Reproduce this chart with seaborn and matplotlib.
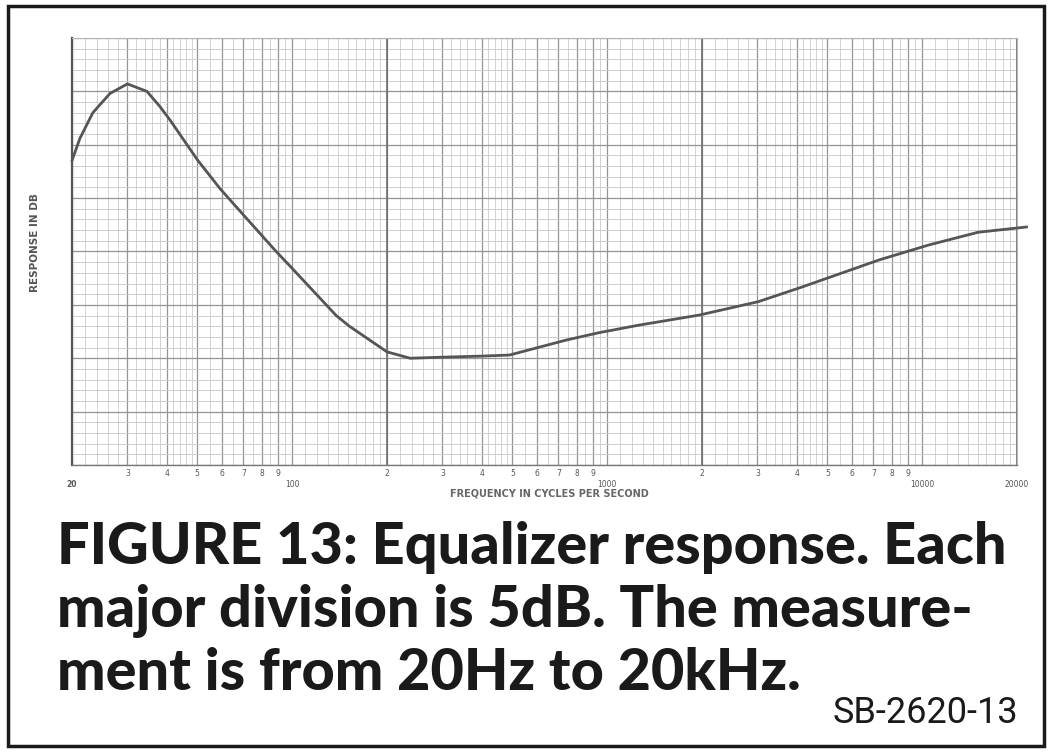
import numpy as np
import matplotlib
matplotlib.use("Agg")
import matplotlib.pyplot as plt
import matplotlib.ticker as mticker
from matplotlib.patches import Rectangle
import seaborn as sns

sns.set_style("white")

# curve (Hz, dB above bottom of the sheet)
freq_hz = [20, 21.2, 23.3, 26.4, 30, 34.6, 38, 41, 50, 59, 65, 89, 98, 138, 152,
           200, 237, 300, 400, 490, 741, 944, 1261, 1965, 3019, 4089, 7285,
           10467, 15050, 21500]
response_db = [28.5, 30.6, 33.0, 34.8, 35.7, 35.0, 33.6, 32.3, 28.6, 25.9, 24.5,
               20.0, 18.7, 14.0, 13.0, 10.6, 10.0, 10.1, 10.2, 10.3, 11.7, 12.4,
               13.1, 14.05, 15.3, 16.6, 19.2, 20.6, 21.8, 22.3]

# x tick labels as printed on the paper
tick_hz = [20, 30, 40, 50, 60, 70, 80, 90, 100, 200, 300, 400, 500, 600, 700,
           800, 900, 1000, 2000, 3000, 4000, 5000, 6000, 7000, 8000, 9000,
           10000, 20000]
decade_hz = [20, 100, 1000, 10000, 20000]
heavy_hz = [20, 200, 2000, 20000]

caption = ["FIGURE 13: Equalizer response. Each",
           "major division is 5dB. The measure-",
           "ment is from 20Hz to 20kHz."]
code = "SB-2620-13"

fig = plt.figure(figsize=(10.58, 7.54), dpi=100)
ax = fig.add_axes([0.068, 0.3833, 0.8932, 0.5663])

ax.set_xscale("log")
ax.set_xlim(20, 20000)
ax.set_ylim(0, 40)

# chart-paper grid
ax.xaxis.set_major_locator(mticker.FixedLocator(tick_hz))
subs = list(np.arange(1, 2, 0.1)) + list(np.arange(2, 5, 0.2)) + list(np.arange(5, 10, 0.5))
ax.xaxis.set_minor_locator(mticker.LogLocator(base=10, subs=subs, numticks=50))
ax.xaxis.set_minor_formatter(mticker.NullFormatter())
ax.yaxis.set_major_locator(mticker.MultipleLocator(5))
ax.yaxis.set_minor_locator(mticker.MultipleLocator(1))
ax.grid(which="major", axis="x", color="#949494", lw=0.9)
ax.grid(which="minor", axis="x", color="#cccccc", lw=0.6)
ax.grid(which="major", axis="y", color="#949494", lw=0.9)
ax.grid(which="minor", axis="y", color="#c8c8c8", lw=0.6)
for f in heavy_hz:
    ax.axvline(f, color="#6e6e6e", lw=1.2, zorder=1)

labels = []
for f in tick_hz:
    if f in decade_hz:
        labels.append("\n" + str(f))
    else:
        labels.append(str(f)[0])
ax.xaxis.set_major_formatter(mticker.FixedFormatter(labels))
ax.tick_params(axis="x", which="both", length=0, pad=3, labelsize=5.5,
               labelcolor="#555555")
ax.tick_params(axis="y", which="both", length=0, labelleft=False)
ax.xaxis.get_majorticklabels()[0].set_fontweight("bold")

for side in ["top", "right"]:
    ax.spines[side].set_color("#b5b5b5")
    ax.spines[side].set_linewidth(0.8)
ax.spines["left"].set_color("#555555")
ax.spines["left"].set_linewidth(1.6)
ax.spines["bottom"].set_color("#777777")
ax.spines["bottom"].set_linewidth(1.0)

sns.lineplot(x=freq_hz, y=response_db, ax=ax, color="#555555", lw=2.0,
             zorder=5, clip_on=False)

ax.set_xlabel("FREQUENCY IN CYCLES PER SECOND", fontsize=7, color="#666666",
              fontweight="bold", labelpad=1)
ax.xaxis.set_label_coords(0.505, -0.055)
ax.set_ylabel("RESPONSE IN DB", fontsize=7.5, color="#555555",
              fontweight="bold", visible=True)
ax.yaxis.set_label_coords(-0.034, 0.52)

# caption
for i, line in enumerate(caption):
    fig.text(0.054, 1 - (548 + 63 * i) / 754, line, family=["Lato", "DejaVu Sans"],
             fontweight="black", fontsize=41.5, color="#1a1a1a", va="center",
             ha="left")
fig.text(1018 / 1058, 1 - 713 / 754, code,
         family=["Liberation Sans Narrow", "Roboto", "DejaVu Sans"],
         fontsize=26, color="#1a1a1a", ha="right", va="center")

fig.add_artist(Rectangle((8 / 1058, 8 / 754), 1036 / 1058, 740 / 754,
                         transform=fig.transFigure, fill=False,
                         edgecolor="#1a1a1a", lw=2.5))

fig.savefig("out.png", dpi=100)
